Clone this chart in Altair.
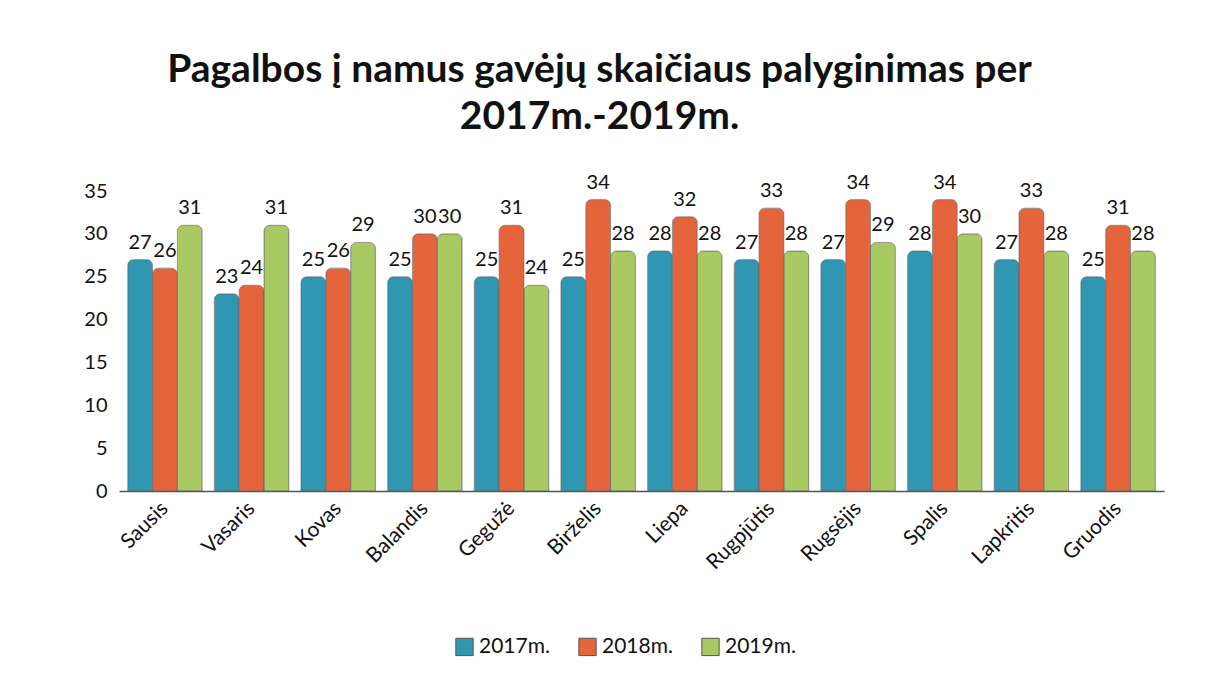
import altair as alt
import pandas as pd

months = ["Sausis", "Vasaris", "Kovas", "Balandis", "Gegužė", "Birželis",
          "Liepa", "Rugpjūtis", "Rugsėjis", "Spalis", "Lapkritis", "Gruodis"]
series = ["2017m.", "2018m.", "2019m."]
v2017 = [27, 23, 25, 25, 25, 25, 28, 27, 27, 28, 27, 25]
v2018 = [26, 24, 26, 30, 31, 34, 32, 33, 34, 34, 33, 31]
v2019 = [31, 31, 29, 30, 24, 28, 28, 28, 29, 30, 28, 28]
colors = ["#2F97B2", "#E5643C", "#A9C962"]

rows = []
for i, m in enumerate(months):
    for s, vals in zip(series, [v2017, v2018, v2019]):
        rows.append({"Mėnuo": m, "Metai": s, "Reikšmė": vals[i]})
df = pd.DataFrame(rows)

FONT = "Lato"

x = alt.X("Mėnuo:N", sort=months, title=None,
          scale=alt.Scale(paddingInner=0.14, paddingOuter=0.1),
          axis=alt.Axis(labelAngle=-45, labelAlign="right", labelBaseline="middle",
                        labelFontSize=21, labelFont=FONT, labelColor="#111111",
                        labelPadding=14, ticks=False, domain=True,
                        domainColor="#555555", domainWidth=1.5))
y = alt.Y("Reikšmė:Q", title=None,
          scale=alt.Scale(domain=[0, 35], nice=False),
          axis=alt.Axis(values=[0, 5, 10, 15, 20, 25, 30, 35], grid=False,
                        labelFontSize=20, labelFont=FONT, labelColor="#111111",
                        ticks=False, domain=False, labelPadding=12))
xo = alt.XOffset("Metai:N", sort=series,
                 scale=alt.Scale(paddingInner=0.0))
color = alt.Color("Metai:N", sort=series,
                  scale=alt.Scale(domain=series, range=colors),
                  legend=alt.Legend(title=None, orient="none", direction="horizontal",
                                    legendX=335, legendY=445,
                                    symbolType="square", symbolSize=300,
                                    symbolStrokeColor="#555555", symbolStrokeWidth=1,
                                    labelFontSize=21, labelFont=FONT, labelColor="#111111",
                                    columnPadding=26))

base = alt.Chart(df).encode(x=x, y=y, xOffset=xo)

bars = base.mark_bar(cornerRadiusTopLeft=6, cornerRadiusTopRight=6,
                     stroke="#666666", strokeWidth=0.6).encode(color=color)
labels = base.mark_text(dy=-17, fontSize=20, font=FONT, color="#111111").encode(
    text="Reikšmė:Q")

chart = (bars + labels).properties(
    width=1045, height=300,
    padding={"left": 75, "top": 42, "right": 40, "bottom": 10},
    title=alt.TitleParams(
        ["Pagalbos į namus gavėjų skaičiaus palyginimas per", "2017m.-2019m."],
        fontSize=39, font=FONT, fontWeight="bold", color="#111111",
        lineHeight=47, offset=36, anchor="middle", dx=-42),
).configure(background="white").configure_view(strokeWidth=0, stroke="transparent")

chart.save("out.html", embed_options={"renderer": "svg", "actions": False})
